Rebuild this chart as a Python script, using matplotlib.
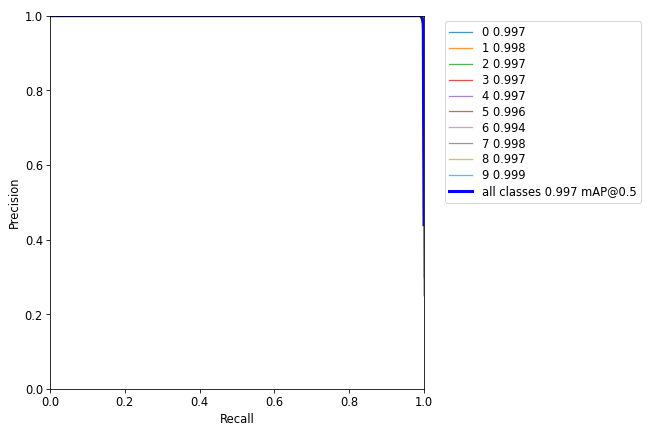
import numpy as np
import matplotlib
matplotlib.use("Agg")
import matplotlib.pyplot as plt

plt.rcParams["font.size"] = 11.5

class_names = ["0", "1", "2", "3", "4", "5", "6", "7", "8", "9"]
class_ap = [0.997, 0.998, 0.997, 0.997, 0.997, 0.996, 0.994, 0.998, 0.997, 0.999]
map50 = 0.997

recall = [0.0, 0.990, 0.995, 0.998, 1.0]
prec_0 = [1.0, 1.0, 1.0, 0.99, 0.45]
prec_1 = [1.0, 1.0, 1.0, 0.99, 0.50]
prec_2 = [1.0, 1.0, 0.99, 0.98, 0.40]
prec_3 = [1.0, 1.0, 0.99, 0.97, 0.38]
prec_4 = [1.0, 1.0, 1.0, 0.99, 0.55]
prec_5 = [1.0, 1.0, 0.99, 0.96, 0.30]
prec_6 = [1.0, 1.0, 0.98, 0.94, 0.35]
prec_7 = [1.0, 1.0, 1.0, 0.99, 0.25]
prec_8 = [1.0, 1.0, 0.99, 0.98, 0.60]
prec_9 = [1.0, 1.0, 1.0, 1.0, 0.62]
precisions = [prec_0, prec_1, prec_2, prec_3, prec_4, prec_5, prec_6, prec_7, prec_8, prec_9]

fig, ax = plt.subplots(1, 1, figsize=(9, 6), dpi=650 / 9)
fig.subplots_adjust(left=50 / 650, right=424 / 650, top=1 - 16 / 433, bottom=1 - 389 / 433)
for name, ap, p in zip(class_names, class_ap, precisions):
    ax.plot(recall, p, linewidth=1.3, alpha=0.8, label=f"{name} {ap:.3f}")
mean_p = np.mean(np.array(precisions), axis=0)
ax.plot(recall, mean_p, linewidth=3, color="blue", label=f"all classes {map50:.3f} mAP@0.5")
ax.set_xlabel("Recall")
ax.set_ylabel("Precision")
ax.set_xlim(0, 1)
ax.set_ylim(0, 1)
ax.legend(bbox_to_anchor=(1.04, 1), loc="upper left", labelspacing=0.25)
fig.savefig("out.png", dpi=650 / 9)
